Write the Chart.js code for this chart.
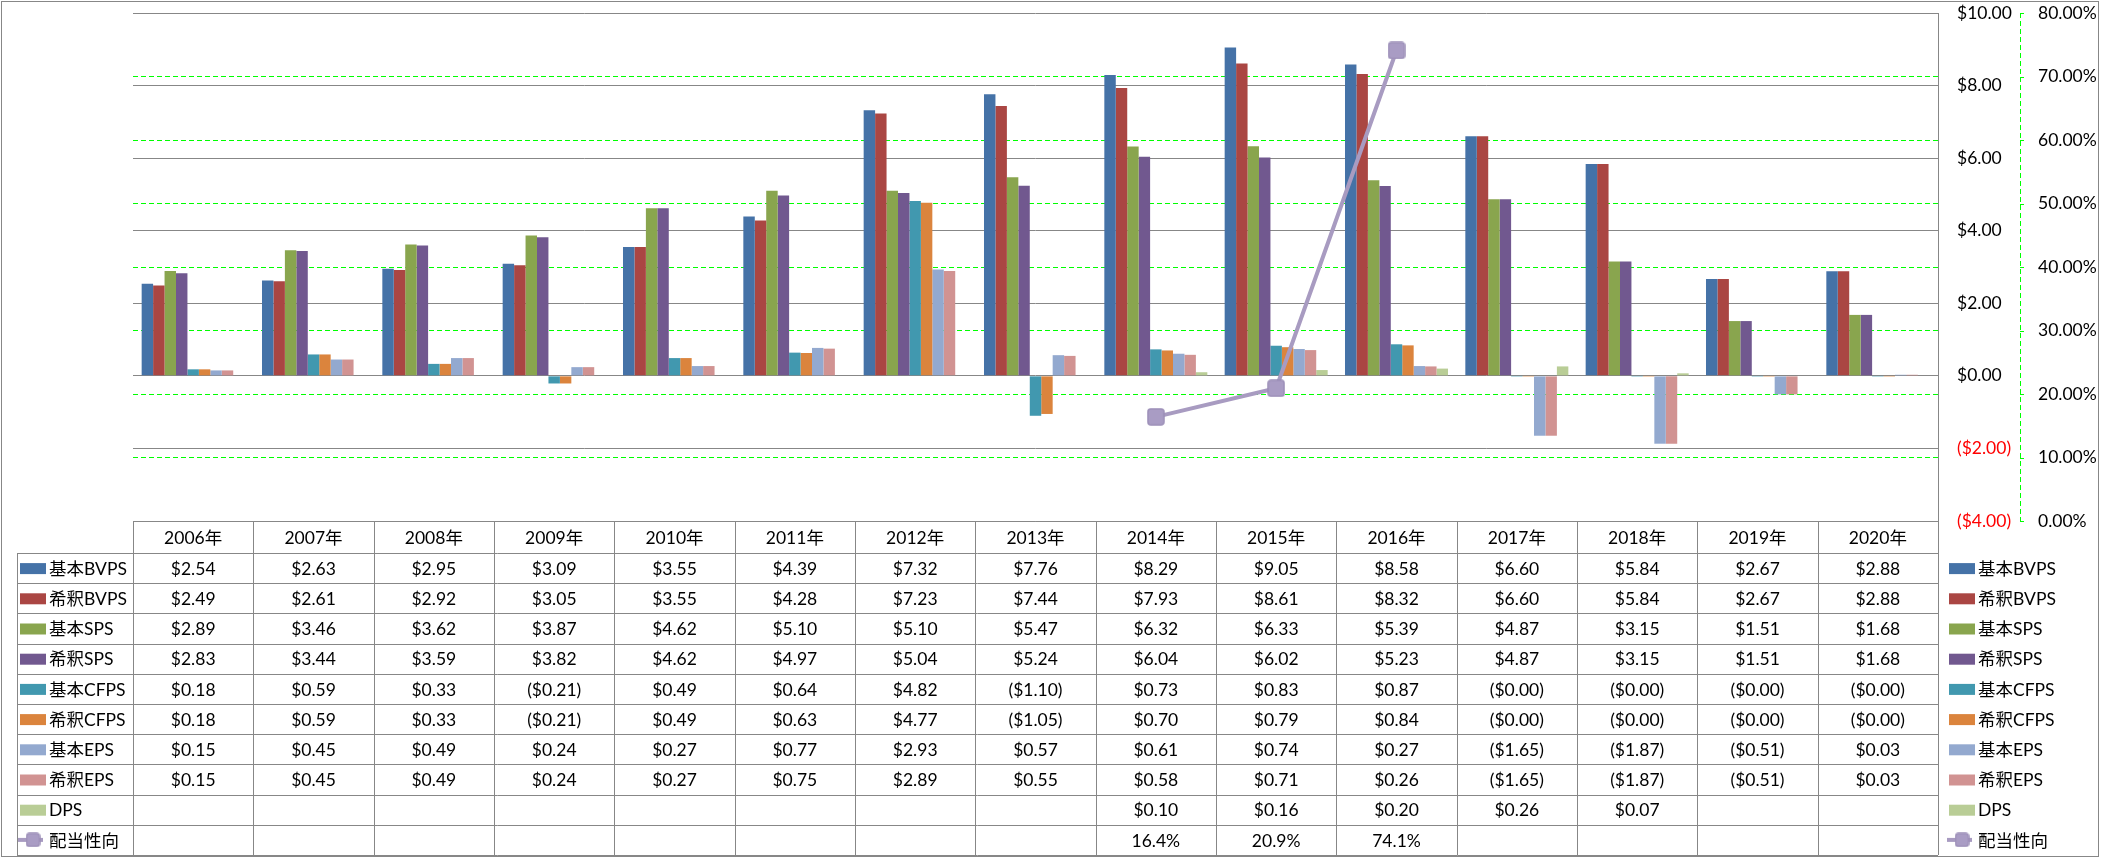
<!DOCTYPE html>
<html>
<head>
<meta charset="utf-8">
<script src="https://cdn.jsdelivr.net/npm/chart.js@4.4.0/dist/chart.umd.min.js"></script>
<style>
html,body{margin:0;padding:0;background:#fff;overflow:hidden}
canvas{display:block}
</style>
</head>
<body>
<canvas id="c" width="2101" height="858"></canvas>
<script>
// ---- data ----
const years = ['2006年','2007年','2008年','2009年','2010年','2011年','2012年','2013年','2014年','2015年','2016年','2017年','2018年','2019年','2020年'];
const basicBVPS   = [2.54,2.63,2.95,3.09,3.55,4.39,7.32,7.76,8.29,9.05,8.58,6.60,5.84,2.67,2.88];
const dilutedBVPS = [2.49,2.61,2.92,3.05,3.55,4.28,7.23,7.44,7.93,8.61,8.32,6.60,5.84,2.67,2.88];
const basicSPS    = [2.89,3.46,3.62,3.87,4.62,5.10,5.10,5.47,6.32,6.33,5.39,4.87,3.15,1.51,1.68];
const dilutedSPS  = [2.83,3.44,3.59,3.82,4.62,4.97,5.04,5.24,6.04,6.02,5.23,4.87,3.15,1.51,1.68];
const basicCFPS   = [0.18,0.59,0.33,-0.21,0.49,0.64,4.82,-1.10,0.73,0.83,0.87,-0.001,-0.001,-0.001,-0.001];
const dilutedCFPS = [0.18,0.59,0.33,-0.21,0.49,0.63,4.77,-1.05,0.70,0.79,0.84,-0.001,-0.001,-0.001,-0.001];
const basicEPS    = [0.15,0.45,0.49,0.24,0.27,0.77,2.93,0.57,0.61,0.74,0.27,-1.65,-1.87,-0.51,0.03];
const dilutedEPS  = [0.15,0.45,0.49,0.24,0.27,0.75,2.89,0.55,0.58,0.71,0.26,-1.65,-1.87,-0.51,0.03];
const dps         = [null,null,null,null,null,null,null,null,0.10,0.16,0.20,0.26,0.07,null,null];
const payoutRatio = [null,null,null,null,null,null,null,null,16.4,20.9,74.1,null,null,null,null];

const barSeriesNames = ['基本BVPS','希釈BVPS','基本SPS','希釈SPS','基本CFPS','希釈CFPS','基本EPS','希釈EPS','DPS'];
const lineSeriesName = '配当性向';
const moneyAxisRange = [-4, 10, 2];
const pctAxisRange = [0, 80, 10];

// ---- styles ----
const barColors = ['#4572A7','#AA4643','#89A54E','#71588F','#4198AF','#DB843D','#93A9CF','#D19392','#B9CD96'];
const lineColor = '#A89BC1';
const gray = '#878787';
const green = '#00FF00';
const FONT = "Lato, 'Noto Sans CJK JP', sans-serif";
const FS = 17.5;

function fmtMoney(v){
  if (v === null || v === undefined) return '';
  const s = '$' + Math.abs(v).toFixed(2);
  return v < 0 ? '(' + s + ')' : s;
}
function fmtPct(v){ return (v === null || v === undefined) ? '' : v.toFixed(1) + '%'; }

function makeMarker(size){
  const c = document.createElement('canvas');
  c.width = size; c.height = size;
  const g = c.getContext('2d');
  g.fillStyle = '#A99CC4';
  g.strokeStyle = '#9C8FB8';
  g.lineWidth = 1.5;
  g.beginPath();
  if (g.roundRect) g.roundRect(1, 1, size - 2, size - 2, 3); else g.rect(1, 1, size - 2, size - 2);
  g.fill(); g.stroke();
  return c;
}
const marker = makeMarker(18);
const legendMarker = makeMarker(15);

const barData = [basicBVPS, dilutedBVPS, basicSPS, dilutedSPS, basicCFPS, dilutedCFPS, basicEPS, dilutedEPS, dps];

const datasets = barData.map((d, i) => ({
  type: 'bar',
  label: barSeriesNames[i],
  data: d,
  backgroundColor: barColors[i],
  borderWidth: 0,
  yAxisID: 'y',
  order: 1,
  categoryPercentage: 0.856,
  barPercentage: 1.0
}));
datasets.push({
  type: 'line',
  label: lineSeriesName,
  data: payoutRatio,
  borderColor: lineColor,
  borderWidth: 4,
  pointStyle: marker,
  pointRadius: 9,
  pointBackgroundColor: '#A99CC4',
  pointBorderColor: '#9C8FB8',
  spanGaps: false,
  yAxisID: 'y1',
  order: 0
});

const tableRows = barData.map((d) => d.map(fmtMoney)).concat([payoutRatio.map(fmtPct)]);

const tablePlugin = {
  id: 'dataTable',
  afterDraw(chart) {
    const ctx = chart.ctx;
    const area = chart.chartArea;
    const n = years.length;
    const colW = (area.right - area.left) / n;
    const headTop = area.bottom;
    const headBottom = 553;
    const tableBottom = 855;
    const nRows = tableRows.length;
    const rowH = (tableBottom - headBottom) / nRows;
    const legLeft = 17;
    const cr = (v) => Math.round(v) + 0.5;

    ctx.save();
    ctx.strokeStyle = gray;
    ctx.lineWidth = 1;
    ctx.setLineDash([]);
    ctx.beginPath();
    ctx.moveTo(area.left, cr(headTop)); ctx.lineTo(area.right, cr(headTop));
    for (let r = 0; r <= nRows; r++) {
      const y = cr(headBottom + r * rowH);
      ctx.moveTo(legLeft, y); ctx.lineTo(area.right, y);
    }
    ctx.moveTo(cr(legLeft), headBottom); ctx.lineTo(cr(legLeft), tableBottom);
    for (let c = 0; c <= n; c++) {
      const x = cr(area.left + c * colW);
      ctx.moveTo(x, headTop); ctx.lineTo(x, tableBottom);
    }
    ctx.stroke();

    ctx.fillStyle = '#000';
    ctx.font = FS + 'px ' + FONT;
    ctx.textAlign = 'center';
    ctx.textBaseline = 'middle';
    const xs = chart.scales.x;
    for (let c = 0; c < n; c++) {
      const cx = xs.getPixelForValue(c);
      ctx.fillText(years[c], cx, (headTop + headBottom) / 2 + 1);
      for (let r = 0; r < nRows; r++) {
        const t = tableRows[r][c];
        if (t) ctx.fillText(t, cx, headBottom + (r + 0.5) * rowH + 1);
      }
    }

    const dsList = chart.data.datasets;
    const drawLegendItem = (ds, x0, yc) => {
      if (ds.type === 'line') {
        ctx.strokeStyle = ds.borderColor;
        ctx.lineWidth = 4;
        ctx.beginPath();
        ctx.moveTo(x0 - 2, yc); ctx.lineTo(x0 + 23, yc);
        ctx.stroke();
        ctx.drawImage(legendMarker, x0 + 13 - 7.5, yc - 7.5);
      } else {
        ctx.fillStyle = ds.backgroundColor;
        ctx.fillRect(x0, yc - 5, 26, 11);
      }
      ctx.fillStyle = '#000';
      ctx.textAlign = 'left';
      ctx.fillText(ds.label, x0 + 29, yc + 1);
    };
    dsList.forEach((ds, r) => {
      const yc = headBottom + (r + 0.5) * rowH;
      drawLegendItem(ds, 20, yc);
      drawLegendItem(ds, 1949, yc);
    });

    const y1 = chart.scales.y1;
    ctx.strokeStyle = green;
    ctx.lineWidth = 1;
    ctx.setLineDash([5, 3]);
    ctx.beginPath();
    ctx.moveTo(cr(y1.left), area.top); ctx.lineTo(cr(y1.left), area.bottom);
    ctx.stroke();
    ctx.setLineDash([]);
    ctx.beginPath();
    y1.ticks.forEach(t => {
      const y = cr(y1.getPixelForValue(t.value));
      ctx.moveTo(y1.left, y); ctx.lineTo(y1.left + 4, y);
    });
    ctx.stroke();

    ctx.strokeStyle = gray;
    ctx.lineWidth = 1;
    ctx.strokeRect(1.5, 1.5, 2097, 855);
    ctx.restore();
  }
};

Chart.defaults.font.family = FONT;
Chart.defaults.font.size = FS;
Chart.defaults.color = '#000';

new Chart(document.getElementById('c'), {
  data: { labels: years, datasets },
  options: {
    responsive: false,
    animation: false,
    devicePixelRatio: 1,
    layout: { padding: { left: 133, top: 13, right: 0, bottom: 337 } },
    plugins: { legend: { display: false }, tooltip: { enabled: false } },
    scales: {
      x: { type: 'category', display: false, offset: true, grid: { display: false } },
      y: {
        position: 'right',
        min: moneyAxisRange[0], max: moneyAxisRange[1],
        grid: { color: gray, lineWidth: 1, drawTicks: true, tickLength: 19, tickColor: 'rgba(0,0,0,0)' },
        border: { display: true, color: gray, width: 1 },
        ticks: {
          stepSize: moneyAxisRange[2],
          padding: 0,
          crossAlign: 'near',
          font: { size: FS, family: FONT },
          color: (c) => (c.tick && c.tick.value < 0) ? '#FF0000' : '#000',
          callback: (v) => fmtMoney(v)
        },
        afterFit: (s) => { s.width = 82; }
      },
      y1: {
        position: 'right',
        min: pctAxisRange[0], max: pctAxisRange[1],
        grid: {
          drawTicks: true,
          tickLength: 18,
          tickColor: 'rgba(0,0,0,0)',
          lineWidth: 1,
          color: (c) => (c.tick && (c.tick.value === 0 || c.tick.value === 80)) ? 'rgba(0,0,0,0)' : green
        },
        border: { display: false, dash: [5, 3] },
        ticks: {
          stepSize: pctAxisRange[2],
          padding: 0,
          crossAlign: 'near',
          font: { size: FS, family: FONT },
          color: '#000',
          callback: (v) => v.toFixed(2) + '%'
        },
        afterFit: (s) => { s.width = 81; }
      }
    }
  },
  plugins: [tablePlugin]
});
</script>
</body>
</html>
